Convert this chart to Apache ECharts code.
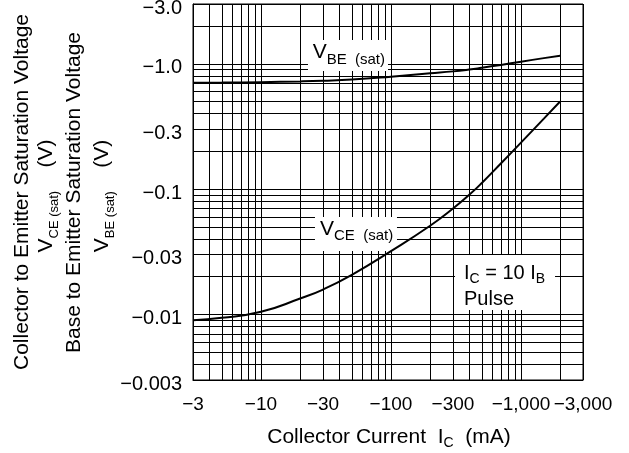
<!DOCTYPE html>
<html><head><meta charset="utf-8">
<script src="https://cdn.jsdelivr.net/npm/echarts@6/dist/echarts.min.js"></script>
<style>html,body{margin:0;padding:0;background:#fff}#c{width:629px;height:453px}</style>
</head><body><div id="c"></div>
<script>
// Collector current (mA, magnitude; axis labels are negative)
const currentMA = [3, 5, 10, 20, 30, 50, 100, 200, 300, 400, 500, 700, 1000, 1500, 2000];
// Base-to-emitter saturation voltage (V, magnitude)
const vbeSat = [0.706, 0.708, 0.714, 0.724, 0.733, 0.75, 0.79, 0.84, 0.87, 0.90, 0.93, 0.98, 1.04, 1.11, 1.16];
// Collector-to-emitter saturation voltage (V, magnitude)
const vceSat = [0.0090, 0.0094, 0.0105, 0.0134, 0.0158, 0.0207, 0.032, 0.051, 0.070, 0.090, 0.112, 0.160, 0.235, 0.365, 0.50];

// Tick labels
const xTickValues = [3, 10, 30, 100, 300, 1000, 3000];
const xTickLabels = ['\u22123', '\u221210', '\u221230', '\u2212100', '\u2212300', '\u22121,000', '\u22123,000'];
const yTickValues = [0.003, 0.01, 0.03, 0.1, 0.3, 1, 3];
const yTickLabels = ['\u22120.003', '\u22120.01', '\u22120.03', '\u22120.1', '\u22120.3', '\u22121.0', '\u22123.0'];

// Grid line positions
const xGridValues = [3,4,5,6,7,8,9,10,20,30,40,50,60,70,80,90,100,200,300,400,500,600,700,800,900,1000,2000,3000];
const yGridValues = [0.003,0.004,0.005,0.006,0.007,0.008,0.009,0.01,0.02,0.03,0.04,0.05,0.06,0.07,0.08,0.09,0.1,0.2,0.3,0.4,0.5,0.6,0.7,0.8,0.9,1,2,3];

// Annotation anchors (data coordinates of label box centers)
const vbeLabelAt = [46.7, 1.165];
const vceLabelAt = [53.8, 0.0438];
const condLabelAt = [754, 0.018];

const FF = '"Liberation Sans", Arial, Helvetica, sans-serif';

function lookup(vals, labels, v) {
  for (let i = 0; i < vals.length; i++) {
    if (Math.abs(Math.log10(v) - Math.log10(vals[i])) < 1e-6) return labels[i];
  }
  return '';
}

const chart = echarts.init(document.getElementById('c'), null, {renderer: 'canvas', width: 629, height: 453});

const option = {
  animation: false,
  backgroundColor: '#fff',
  grid: {left: 193, right: 46, top: 4, bottom: 73, show: true, borderColor: '#000', borderWidth: 1, outerBoundsMode: 'none', containLabel: false},
  xAxis: {
    type: 'log', logBase: 10, min: 3, max: 3000,
    axisLine: {show: true, lineStyle: {color: '#000', width: 1}},
    axisTick: {show: false, customValues: xGridValues},
    splitLine: {show: true, lineStyle: {color: '#000', width: 1}},
    minorTick: {show: false}, minorSplitLine: {show: false},
    axisLabel: {
      customValues: xTickValues, showMinLabel: true, showMaxLabel: true, hideOverlap: false,
      formatter: v => lookup(xTickValues, xTickLabels, v),
      fontSize: 19, fontFamily: FF, color: '#000', margin: 15
    }
  },
  yAxis: {
    type: 'log', logBase: 10, min: 0.003, max: 3,
    axisLine: {show: true, lineStyle: {color: '#000', width: 1}},
    axisTick: {show: false, customValues: yGridValues},
    splitLine: {show: true, lineStyle: {color: '#000', width: 1}},
    minorTick: {show: false}, minorSplitLine: {show: false},
    axisLabel: {
      customValues: yTickValues, showMinLabel: true, showMaxLabel: true, hideOverlap: false,
      formatter: v => lookup(yTickValues, yTickLabels, v),
      fontSize: 20, fontFamily: FF, color: '#000', margin: 11,
      verticalAlign: 'top', lineHeight: 8
    }
  },
  series: [
    {type: 'line', name: 'VBE(sat)', data: currentMA.map((x, i) => [x, vbeSat[i]]), smooth: 0.5,
     showSymbol: false, symbol: 'none', lineStyle: {color: '#000', width: 2}, z: 5},
    {type: 'line', name: 'VCE(sat)', data: currentMA.map((x, i) => [x, vceSat[i]]), smooth: 0.5,
     showSymbol: false, symbol: 'none', lineStyle: {color: '#000', width: 2}, z: 5}
  ]
};
chart.setOption(option);

const P = (d) => chart.convertToPixel({seriesIndex: 0}, d);

function subText(x, y, text, mainSize, subSize, shift, opts) {
  return Object.assign({
    type: 'text', x: x, y: y, z: 20,
    style: {
      text: text, fill: '#000', fontFamily: FF, fontSize: mainSize,
      align: 'left', verticalAlign: 'middle',
      rich: {
        m: {fontSize: mainSize, fontFamily: FF, fill: '#000', lineHeight: 28},
        s: {fontSize: subSize, fontFamily: FF, fill: '#000', lineHeight: 28, padding: [shift * 2, 0, 0, 0]}
      }
    }
  }, opts || {});
}

const a = P(vbeLabelAt), b = P(vceLabelAt), c = P(condLabelAt);
const g = [];
// label boxes
g.push({type: 'rect', z: 3, shape: {x: a[0] - 40, y: a[1] - 15.5, width: 80, height: 31}, style: {fill: '#fff'}});
g.push({type: 'rect', z: 3, shape: {x: b[0] - 41, y: b[1] - 17, width: 82, height: 34}, style: {fill: '#fff'}});
g.push({type: 'rect', z: 3, shape: {x: c[0] - 50, y: c[1] - 27.5, width: 100, height: 55}, style: {fill: '#fff'}});
// label texts
g.push(subText(a[0] - 35.3, a[1] - 3, '{m|V}{s|BE  (sat)}', 21, 15, 7.5));
g.push(subText(b[0] - 36, b[1] - 5, '{m|V}{s|CE  (sat)}', 21, 15, 7));
g.push(subText(c[0] - 41, c[1] - 9, '{m|I}{s|C}{m| = 10 I}{s|B}', 20, 14, 6));
g.push(subText(c[0] - 41, c[1] + 17.5, '{m|Pulse}', 20, 14, 0));
// axis titles
g.push(subText(389, 437, '{m|Collector Current  I}{s|C}{m|  (mA)}', 21, 14, 6.5, {}));
g[g.length - 1].style.align = 'center';
g.push({type: 'text', x: 22, y: 192, rotation: Math.PI / 2, z: 20,
  style: {text: 'Collector to Emitter Saturation Voltage', fill: '#000', fontFamily: FF, fontSize: 21, align: 'center', verticalAlign: 'middle'}});
g.push(subText(46, 196, '{m|V}{s|CE (sat)}{m|    (V)}', 21, 13, 8, {rotation: Math.PI / 2}));
g[g.length - 1].style.align = 'center';
g.push({type: 'text', x: 74, y: 192.5, rotation: Math.PI / 2, z: 20,
  style: {text: 'Base to Emitter Saturation Voltage', fill: '#000', fontFamily: FF, fontSize: 21, align: 'center', verticalAlign: 'middle'}});
g.push(subText(102, 196, '{m|V}{s|BE (sat)}{m|    (V)}', 21, 13, 8, {rotation: Math.PI / 2}));
g[g.length - 1].style.align = 'center';

chart.setOption({graphic: g});
</script>
</body></html>
